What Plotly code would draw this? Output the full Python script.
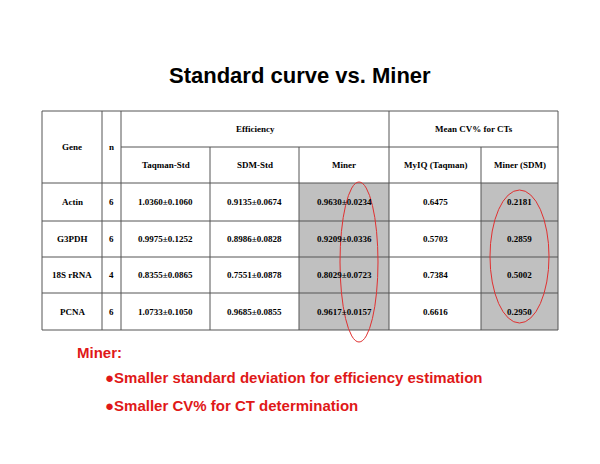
import plotly.graph_objects as go

genes = ["Actin", "G3PDH", "18S rRNA", "PCNA"]
n_vals = ["6", "6", "4", "6"]
taqman_std = ["1.0360±0.1060", "0.9975±0.1252", "0.8355±0.0865", "1.0733±0.1050"]
sdm_std = ["0.9135±0.0674", "0.8986±0.0828", "0.7551±0.0878", "0.9685±0.0855"]
miner_eff = ["0.9630±0.0234", "0.9209±0.0336", "0.8029±0.0723", "0.9617±0.0157"]
myiq_cv = ["0.6475", "0.5703", "0.7384", "0.6616"]
miner_cv = ["0.2181", "0.2859", "0.5002", "0.2950"]
sub_headers = ["Taqman-Std", "SDM-Std", "Miner", "MyIQ (Taqman)", "Miner (SDM)"]

# layout grid (page pixels)
xs = [42, 102, 121, 210, 299, 389, 481, 558]
ys = [111, 147, 183, 221, 257, 293, 330]

fig = go.Figure()
shapes = []
ann = []
line = dict(color="#555555", width=1)

# grey shaded result columns
for ci in (3, 5):
    shapes.append(dict(type="rect", x0=xs[ci + 1], x1=xs[ci + 2], y0=ys[2], y1=ys[6],
                       fillcolor="#c0c0c0", line=dict(width=0), layer="below"))
shapes.append(dict(type="rect", x0=xs[0], x1=xs[-1], y0=ys[0], y1=ys[-1], line=line))
for x in xs[1:-1]:
    y0 = ys[1] if x in (xs[3], xs[4], xs[6]) else ys[0]
    shapes.append(dict(type="line", x0=x, x1=x, y0=y0, y1=ys[-1], line=line))
shapes.append(dict(type="line", x0=xs[2], x1=xs[-1], y0=ys[1], y1=ys[1], line=line))
for y in ys[2:-1]:
    shapes.append(dict(type="line", x0=xs[0], x1=xs[-1], y0=y, y1=y, line=line))

# red ellipses
red = dict(color="#e03030", width=1)
shapes.append(dict(type="circle", x0=340, x1=378, y0=182, y1=342, line=red))
shapes.append(dict(type="circle", x0=490, x1=549, y0=190, y1=323, line=red))

tf = dict(family="Liberation Serif", size=9, color="black")

def cell(x, y, t):
    ann.append(dict(x=x, y=y, text="<b>" + t + "</b>", showarrow=False, font=tf))

cell((xs[0] + xs[1]) / 2, (ys[0] + ys[2]) / 2, "Gene")
cell((xs[1] + xs[2]) / 2, (ys[0] + ys[2]) / 2, "n")
cell((xs[2] + xs[5]) / 2, (ys[0] + ys[1]) / 2, "Efficiency")
cell((xs[5] + xs[7]) / 2, (ys[0] + ys[1]) / 2, "Mean CV% for CTs")
for i, h in enumerate(sub_headers):
    cell((xs[i + 2] + xs[i + 3]) / 2, (ys[1] + ys[2]) / 2, h)
cols = [genes, n_vals, taqman_std, sdm_std, miner_eff, myiq_cv, miner_cv]
for c, vals in enumerate(cols):
    for r, v in enumerate(vals):
        cell((xs[c] + xs[c + 1]) / 2, (ys[r + 2] + ys[r + 3]) / 2, v)

ann.append(dict(x=300, y=75, text="<b>Standard curve vs. Miner</b>", showarrow=False,
                font=dict(family="Liberation Sans", size=22, color="black")))
rf = dict(family="Liberation Sans", size=15, color="#e01818")
ann.append(dict(x=75, y=352, text="<b>Miner:</b>", showarrow=False, xanchor="left", font=rf))
ann.append(dict(x=103, y=377, text="<b>●Smaller standard deviation for efficiency estimation</b>",
                showarrow=False, xanchor="left", font=rf))
ann.append(dict(x=103, y=405, text="<b>●Smaller CV% for CT determination</b>",
                showarrow=False, xanchor="left", font=rf))

# page body has an 8px margin, so shift the view to keep page coordinates
fig.update_layout(
    width=600, height=464, margin=dict(l=0, r=0, t=0, b=0),
    plot_bgcolor="white", paper_bgcolor="white", shapes=shapes, annotations=ann,
    xaxis=dict(range=[8, 608], visible=False, fixedrange=True),
    yaxis=dict(range=[472, 8], visible=False, fixedrange=True),
    showlegend=False,
)
fig.write_html("out.html")
